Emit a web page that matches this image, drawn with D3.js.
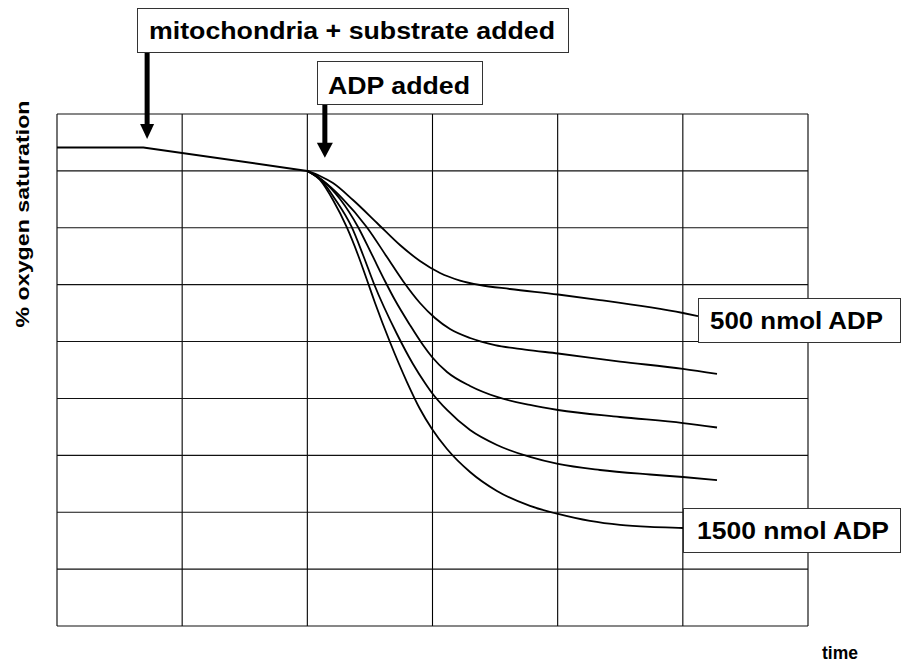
<!DOCTYPE html>
<html>
<head>
<meta charset="utf-8">
<script src="https://cdn.jsdelivr.net/npm/d3@7"></script>
<style>
  html, body { margin: 0; padding: 0; background: #fff; }
  svg text { font-family: "Liberation Sans", Arial, sans-serif; font-weight: bold; fill: #000; }
</style>
</head>
<body>
<svg id="chart" width="902" height="666"></svg>
<script>
// Oxygen electrode trace: time (grid columns) vs % oxygen saturation (grid rows)
const timeTicks = [0, 1, 2, 3, 4, 5, 6];
const satTicks = [0, 10, 20, 30, 40, 50, 60, 70, 80, 90];

// Trace before ADP: baseline, then slow decline after mitochondria + substrate
const baseline = [[0, 84.1], [0.69, 84.1], [2.0, 80]];

// Traces after ADP addition, 500 nmol (first) to 1500 nmol (last)
const trace500 = [[2.0,80],[2.101,79.1],[2.205,77.87],[2.365,74.88],[2.557,70.84],[2.74,66.97],[2.9,64.16],[3.06,62.05],[3.22,60.73],[3.379,59.94],[3.619,59.24],[4.003,58.27],[4.338,57.3],[5.001,55.02],[5.121,54.49]];
const trace750 = [[2.0,80],[2.117,78.4],[2.277,75.23],[2.474,70.14],[2.636,64.86],[2.764,60.65],[2.9,56.78],[3.02,54.14],[3.14,52.21],[3.3,50.63],[3.499,49.39],[3.739,48.6],[4.003,47.9],[4.498,46.49],[5.001,45.18],[5.273,44.3]];
const trace1000 = [[2.0,80],[2.117,78.4],[2.261,75.06],[2.405,70.14],[2.517,65.22],[2.62,60.65],[2.7,57.3],[2.82,52.91],[2.924,49.39],[2.996,47.29],[3.116,44.65],[3.3,42.19],[3.515,40.26],[3.779,38.85],[4.003,37.97],[4.498,36.74],[5.001,35.68],[5.273,34.89]];
const trace1250 = [[2.0,80],[2.117,78.22],[2.221,75.06],[2.354,70.14],[2.445,65.22],[2.533,60.12],[2.716,51.33],[2.844,46.06],[2.94,42.72],[2.996,40.96],[3.116,37.97],[3.3,34.45],[3.515,31.82],[3.779,29.71],[4.003,28.48],[4.338,27.42],[4.738,26.63],[5.001,26.19],[5.273,25.66]];
const trace1500 = [[2.0,80],[2.101,78.4],[2.205,74.88],[2.314,70.14],[2.405,65.22],[2.485,60.29],[2.541,56.78],[2.66,49.92],[2.796,42.89],[2.9,38.15],[2.996,34.63],[3.116,31.11],[3.3,27.07],[3.515,23.73],[3.779,21.1],[4.003,19.69],[4.258,18.46],[4.498,17.76],[4.738,17.41],[5.001,17.23],[5.273,17.05]];
const traces = [trace500, trace750, trace1000, trace1250, trace1500];

// Additions marked with arrows
const eventLabels = ["mitochondria + substrate added", "ADP added"];
const eventTimes = [0.72, 2.14];
const eventTipLevels = [85.6, 82.3];

// Labelled traces
const traceLabels = ["500 nmol ADP", "1500 nmol ADP"];

const xTitle = "time";
const yTitle = "% oxygen saturation";

const svg = d3.select("#chart");
const plot = { left: 57, top: 114, width: 751, height: 512 };

const x = d3.scaleLinear().domain([0, 6]).range([plot.left, plot.left + plot.width]);
const y = d3.scaleLinear().domain([0, 90]).range([plot.top + plot.height, plot.top]);

const g = svg.append("g");

// Grid
g.append("g").selectAll("line").data(timeTicks).join("line")
  .attr("x1", d => x(d)).attr("x2", d => x(d))
  .attr("y1", y(0)).attr("y2", y(90))
  .attr("stroke", "#000").attr("stroke-width", 1.1);
g.append("g").selectAll("line").data(satTicks).join("line")
  .attr("x1", x(0)).attr("x2", x(6))
  .attr("y1", d => y(d)).attr("y2", d => y(d))
  .attr("stroke", "#111").attr("stroke-width", 1.1);

const line = d3.line().x(d => x(d[0])).y(d => y(d[1])).curve(d3.curveMonotoneX);

g.append("path").datum(baseline).attr("d", d3.line().x(d => x(d[0])).y(d => y(d[1])))
  .attr("fill", "none").attr("stroke", "#000").attr("stroke-width", 2);

g.append("g").selectAll("path").data(traces).join("path")
  .attr("d", line).attr("fill", "none").attr("stroke", "#000").attr("stroke-width", 1.8);

// Annotation boxes with arrows
const evBoxes = [
  { x0: 137, y0: 8, x1: 568, y1: 52, baseline: 39, tx0: 149, tx1: 555 },
  { x0: 317, y0: 61, x1: 482, y1: 104, baseline: 94, tx0: 328, tx1: 470 }
];
const headW = [14, 16];
const headH = [15, 15];
eventLabels.forEach((lab, i) => {
  const b = evBoxes[i];
  const ax = x(eventTimes[i]);
  const tip = y(eventTipLevels[i]);
  g.append("rect").attr("x", ax - 2.5).attr("y", b.y1).attr("width", 5).attr("height", tip - headH[i] - b.y1 + 1).attr("fill", "#000");
  g.append("path").attr("d", `M${ax - headW[i] / 2},${tip - headH[i]} L${ax + headW[i] / 2},${tip - headH[i]} L${ax},${tip} Z`).attr("fill", "#000");
  g.append("rect").attr("x", b.x0 + 0.5).attr("y", b.y0 + 0.5).attr("width", b.x1 - b.x0).attr("height", b.y1 - b.y0)
    .attr("fill", "#fff").attr("stroke", "#333").attr("stroke-width", 1);
  g.append("text").attr("x", b.tx0).attr("y", b.baseline).attr("font-size", 23)
    .attr("textLength", b.tx1 - b.tx0).attr("lengthAdjust", "spacingAndGlyphs").text(lab);
});

// Trace labels
const labBoxes = [
  { x0: 698, y0: 298, x1: 900, y1: 342, baseline: 329, tx0: 710, tx1: 883 },
  { x0: 683, y0: 508, x1: 900, y1: 552, baseline: 539, tx0: 697, tx1: 889 }
];
traceLabels.forEach((lab, i) => {
  const b = labBoxes[i];
  g.append("rect").attr("x", b.x0 + 0.5).attr("y", b.y0 + 0.5).attr("width", b.x1 - b.x0).attr("height", b.y1 - b.y0)
    .attr("fill", "#fff").attr("stroke", "#333").attr("stroke-width", 1);
  g.append("text").attr("x", b.tx0).attr("y", b.baseline).attr("font-size", 24)
    .attr("textLength", b.tx1 - b.tx0).attr("lengthAdjust", "spacingAndGlyphs").text(lab);
});

// Axis titles
g.append("text").attr("x", 840).attr("y", 659).attr("text-anchor", "middle").attr("font-size", 17.5).text(xTitle);
g.append("text").attr("transform", "translate(29,214) rotate(-90)").attr("text-anchor", "middle")
  .attr("font-size", 17.5).attr("textLength", 227).attr("lengthAdjust", "spacingAndGlyphs").text(yTitle);
</script>
</body>
</html>
